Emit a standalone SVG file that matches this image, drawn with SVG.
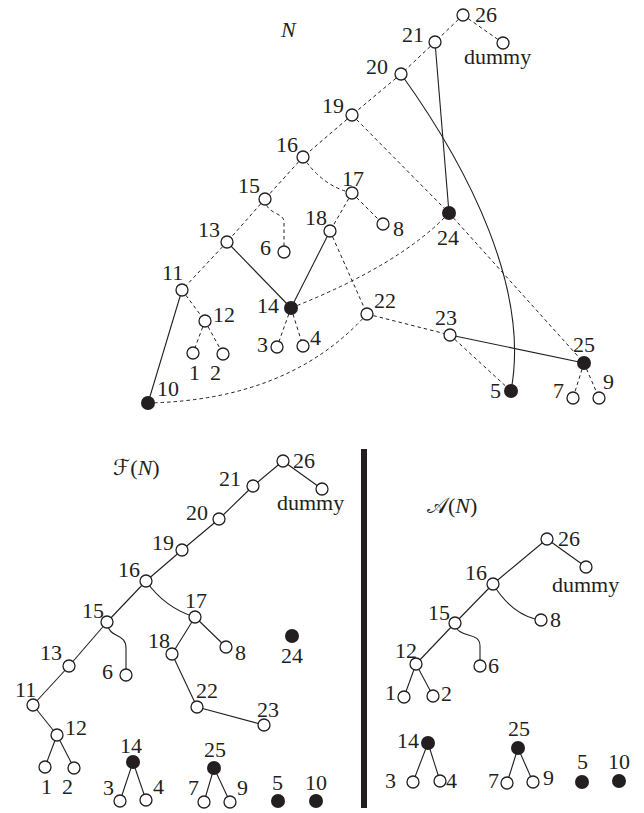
<svg xmlns="http://www.w3.org/2000/svg" width="644" height="813" viewBox="0 0 644 813">
<defs>
<style>
.o{fill:#fff;stroke:#231f20;stroke-width:1.3}
.f{fill:#231f20;stroke:none}
.d{fill:none;stroke:#231f20;stroke-width:1;stroke-dasharray:3.5 3}
.s{fill:none;stroke:#231f20;stroke-width:1.1}
text{font-family:"Liberation Serif","DejaVu Serif",serif;font-size:22px;fill:#231f20}
.it{font-style:italic}
.sc{font-family:"Liberation Serif","DejaVu Sans","DejaVu Serif","Noto Sans",serif}
</style>
</defs>
<rect width="644" height="813" fill="#fff"/>

<!-- ===== Network N ===== -->
<g id="connectors-N">
<line class="d" x1="463" y1="15" x2="435" y2="42"/>
<line class="d" x1="463" y1="15" x2="503" y2="43"/>
<line class="d" x1="435" y1="42" x2="401" y2="74"/>
<line class="s" x1="435" y1="42" x2="449" y2="213"/>
<path class="s" d="M401,74 C470,170 530,290 511,391"/>
<line class="d" x1="401" y1="74" x2="352" y2="115"/>
<line class="d" x1="352" y1="115" x2="303" y2="157"/>
<line class="d" x1="352" y1="115" x2="449" y2="213"/>
<line class="d" x1="303" y1="157" x2="265" y2="199"/>
<path class="d" d="M303,157 Q322,186 352,193"/>
<line class="d" x1="352" y1="193" x2="330" y2="231"/>
<line class="d" x1="352" y1="193" x2="383" y2="224"/>
<line class="d" x1="265" y1="199" x2="227" y2="242"/>
<path class="d" d="M265,199 C266,215 284,212 284,222 L284,246"/>
<line class="d" x1="227" y1="242" x2="182" y2="290"/>
<line class="s" x1="227" y1="242" x2="291" y2="308"/>
<line class="s" x1="182" y1="290" x2="148" y2="403"/>
<line class="d" x1="182" y1="290" x2="205" y2="321"/>
<line class="d" x1="205" y1="321" x2="193" y2="353"/>
<line class="d" x1="205" y1="321" x2="223" y2="354"/>
<line class="d" x1="291" y1="308" x2="277" y2="347"/>
<line class="d" x1="291" y1="308" x2="303" y2="346"/>
<line class="s" x1="330" y1="231" x2="291" y2="308"/>
<line class="d" x1="330" y1="231" x2="367" y2="314"/>
<path class="d" d="M291,308 Q400,265 449,213"/>
<line class="d" x1="449" y1="213" x2="584" y2="363"/>
<line class="d" x1="367" y1="314" x2="450" y2="335"/>
<path class="d" d="M367,314 Q290,400 148,403"/>
<line class="s" x1="450" y1="335" x2="584" y2="363"/>
<line class="d" x1="450" y1="335" x2="511" y2="391"/>
<line class="d" x1="584" y1="363" x2="573" y2="398"/>
<line class="d" x1="584" y1="363" x2="599" y2="398"/>
</g>
<text class="it" x="281" y="37">N</text>
<g id="N-26"><circle class="o" cx="463" cy="15" r="6"/><text x="475" y="22">26</text></g>
<g id="N-dummy"><circle class="o" cx="503" cy="43" r="6"/><text x="464" y="64">dummy</text></g>
<g id="N-21"><circle class="o" cx="435" cy="42" r="6"/><text x="402" y="42">21</text></g>
<g id="N-20"><circle class="o" cx="401" cy="74" r="6"/><text x="366" y="74">20</text></g>
<g id="N-19"><circle class="o" cx="352" cy="115" r="6"/><text x="322" y="113">19</text></g>
<g id="N-16"><circle class="o" cx="303" cy="157" r="6"/><text x="276" y="152">16</text></g>
<g id="N-17"><circle class="o" cx="352" cy="193" r="6"/><text x="342" y="186">17</text></g>
<g id="N-18"><circle class="o" cx="330" cy="231" r="6"/><text x="305" y="225">18</text></g>
<g id="N-8"><circle class="o" cx="383" cy="224" r="6"/><text x="393" y="236">8</text></g>
<g id="N-15"><circle class="o" cx="265" cy="199" r="6"/><text x="238" y="193">15</text></g>
<g id="N-6"><circle class="o" cx="284" cy="252" r="6"/><text x="260" y="255">6</text></g>
<g id="N-13"><circle class="o" cx="227" cy="242" r="6"/><text x="198" y="237">13</text></g>
<g id="N-11"><circle class="o" cx="182" cy="290" r="6"/><text x="162" y="280">11</text></g>
<g id="N-12"><circle class="o" cx="205" cy="321" r="6"/><text x="213" y="322">12</text></g>
<g id="N-1"><circle class="o" cx="193" cy="353" r="6"/><text x="189" y="380">1</text></g>
<g id="N-2"><circle class="o" cx="223" cy="354" r="6"/><text x="210" y="380">2</text></g>
<g id="N-14"><circle class="f" cx="291" cy="308" r="7"/><text x="257" y="313">14</text></g>
<g id="N-3"><circle class="o" cx="277" cy="347" r="6"/><text x="257" y="352">3</text></g>
<g id="N-4"><circle class="o" cx="303" cy="346" r="6"/><text x="310" y="345">4</text></g>
<g id="N-10"><circle class="f" cx="148" cy="403" r="7"/><text x="157" y="396">10</text></g>
<g id="N-22"><circle class="o" cx="367" cy="314" r="6"/><text x="374" y="308">22</text></g>
<g id="N-23"><circle class="o" cx="450" cy="335" r="6"/><text x="435" y="325">23</text></g>
<g id="N-24"><circle class="f" cx="449" cy="213" r="7"/><text x="437" y="245">24</text></g>
<g id="N-25"><circle class="f" cx="584" cy="363" r="7"/><text x="573" y="352">25</text></g>
<g id="N-5"><circle class="f" cx="511" cy="391" r="7"/><text x="490" y="398">5</text></g>
<g id="N-7"><circle class="o" cx="573" cy="398" r="6"/><text x="553" y="398">7</text></g>
<g id="N-9"><circle class="o" cx="599" cy="398" r="6"/><text x="603" y="389">9</text></g>

<!-- divider -->
<rect x="361" y="449" width="6" height="359" fill="#231f20"/>

<!-- ===== F(N) ===== -->
<g id="connectors-F">
<line class="s" x1="283" y1="461" x2="322" y2="489"/>
<line class="s" x1="283" y1="461" x2="253" y2="486"/>
<line class="s" x1="253" y1="486" x2="219" y2="519"/>
<line class="s" x1="219" y1="519" x2="182" y2="550"/>
<line class="s" x1="182" y1="550" x2="146" y2="581"/>
<line class="s" x1="146" y1="581" x2="107" y2="622"/>
<path class="s" d="M146,581 Q165,608 195,617"/>
<line class="s" x1="107" y1="622" x2="69" y2="666"/>
<path class="s" d="M107,622 C109,640 126,632 126,648 L126,669"/>
<line class="s" x1="69" y1="666" x2="33" y2="705"/>
<line class="s" x1="33" y1="705" x2="57" y2="735"/>
<line class="s" x1="57" y1="735" x2="45" y2="767"/>
<line class="s" x1="57" y1="735" x2="74" y2="768"/>
<line class="s" x1="195" y1="617" x2="172" y2="654"/>
<line class="s" x1="195" y1="617" x2="226" y2="647"/>
<line class="s" x1="172" y1="654" x2="197" y2="707"/>
<line class="s" x1="197" y1="707" x2="264" y2="725"/>
<line class="s" x1="133" y1="762" x2="120" y2="801"/>
<line class="s" x1="133" y1="762" x2="146" y2="800"/>
<line class="s" x1="214" y1="768" x2="204" y2="802"/>
<line class="s" x1="214" y1="768" x2="230" y2="802"/>
</g>
<text class="sc" x="113" y="475">ℱ(<tspan class="it" font-family="Liberation Serif">N</tspan>)</text>
<g id="F-26"><circle class="o" cx="283" cy="461" r="6"/><text x="293" y="468">26</text></g>
<g id="F-dummy"><circle class="o" cx="322" cy="489" r="6"/><text x="277" y="510">dummy</text></g>
<g id="F-21"><circle class="o" cx="253" cy="486" r="6"/><text x="219" y="486">21</text></g>
<g id="F-20"><circle class="o" cx="219" cy="519" r="6"/><text x="186" y="520">20</text></g>
<g id="F-19"><circle class="o" cx="182" cy="550" r="6"/><text x="152" y="550">19</text></g>
<g id="F-16"><circle class="o" cx="146" cy="581" r="6"/><text x="118" y="577">16</text></g>
<g id="F-15"><circle class="o" cx="107" cy="622" r="6"/><text x="82" y="618">15</text></g>
<g id="F-17"><circle class="o" cx="195" cy="617" r="6"/><text x="185" y="608">17</text></g>
<g id="F-13"><circle class="o" cx="69" cy="666" r="6"/><text x="40" y="660">13</text></g>
<g id="F-6"><circle class="o" cx="126" cy="675" r="6"/><text x="102" y="679">6</text></g>
<g id="F-11"><circle class="o" cx="33" cy="705" r="6"/><text x="15" y="697">11</text></g>
<g id="F-12"><circle class="o" cx="57" cy="735" r="6"/><text x="65" y="735">12</text></g>
<g id="F-1"><circle class="o" cx="45" cy="767" r="6"/><text x="41" y="794">1</text></g>
<g id="F-2"><circle class="o" cx="74" cy="768" r="6"/><text x="62" y="794">2</text></g>
<g id="F-18"><circle class="o" cx="172" cy="654" r="6"/><text x="148" y="648">18</text></g>
<g id="F-8"><circle class="o" cx="226" cy="647" r="6"/><text x="235" y="660">8</text></g>
<g id="F-24"><circle class="f" cx="292" cy="636" r="7"/><text x="281" y="663">24</text></g>
<g id="F-22"><circle class="o" cx="197" cy="707" r="6"/><text x="196" y="698">22</text></g>
<g id="F-23"><circle class="o" cx="264" cy="725" r="6"/><text x="257" y="717">23</text></g>
<g id="F-14"><circle class="f" cx="133" cy="762" r="7"/><text x="120" y="753">14</text></g>
<g id="F-3"><circle class="o" cx="120" cy="801" r="6"/><text x="103" y="795">3</text></g>
<g id="F-4"><circle class="o" cx="146" cy="800" r="6"/><text x="153" y="794">4</text></g>
<g id="F-25"><circle class="f" cx="214" cy="768" r="7"/><text x="204" y="757">25</text></g>
<g id="F-7"><circle class="o" cx="204" cy="802" r="6"/><text x="188" y="795">7</text></g>
<g id="F-9"><circle class="o" cx="230" cy="802" r="6"/><text x="237" y="795">9</text></g>
<g id="F-5"><circle class="f" cx="278" cy="801" r="7"/><text x="272" y="790">5</text></g>
<g id="F-10"><circle class="f" cx="316" cy="801" r="7"/><text x="305" y="790">10</text></g>

<!-- ===== A(N) ===== -->
<g id="connectors-A">
<line class="s" x1="547" y1="539" x2="586" y2="567"/>
<line class="s" x1="547" y1="539" x2="493" y2="584"/>
<line class="s" x1="493" y1="584" x2="455" y2="623"/>
<path class="s" d="M493,584 Q510,612 535,619"/>
<line class="s" x1="455" y1="623" x2="416" y2="664"/>
<path class="s" d="M455,623 C457,640 480,630 480,646 L480,660"/>
<line class="s" x1="416" y1="664" x2="404" y2="697"/>
<line class="s" x1="416" y1="664" x2="433" y2="696"/>
<line class="s" x1="428" y1="743" x2="413" y2="782"/>
<line class="s" x1="428" y1="743" x2="440" y2="781"/>
<line class="s" x1="518" y1="748" x2="507" y2="783"/>
<line class="s" x1="518" y1="748" x2="533" y2="782"/>
</g>
<text class="sc" x="427" y="513">𝒜(<tspan class="it" font-family="Liberation Serif">N</tspan>)</text>
<g id="A-26"><circle class="o" cx="547" cy="539" r="6"/><text x="558" y="546">26</text></g>
<g id="A-dummy"><circle class="o" cx="586" cy="567" r="6"/><text x="552" y="592">dummy</text></g>
<g id="A-16"><circle class="o" cx="493" cy="584" r="6"/><text x="465" y="580">16</text></g>
<g id="A-15"><circle class="o" cx="455" cy="623" r="6"/><text x="428" y="620">15</text></g>
<g id="A-8"><circle class="o" cx="541" cy="620" r="6"/><text x="550" y="627">8</text></g>
<g id="A-12"><circle class="o" cx="416" cy="664" r="6"/><text x="395" y="658">12</text></g>
<g id="A-6"><circle class="o" cx="480" cy="666" r="6"/><text x="488" y="673">6</text></g>
<g id="A-1"><circle class="o" cx="404" cy="697" r="6"/><text x="385" y="700">1</text></g>
<g id="A-2"><circle class="o" cx="433" cy="696" r="6"/><text x="441" y="701">2</text></g>
<g id="A-14"><circle class="f" cx="428" cy="743" r="7"/><text x="397" y="748">14</text></g>
<g id="A-3"><circle class="o" cx="413" cy="782" r="6"/><text x="385" y="788">3</text></g>
<g id="A-4"><circle class="o" cx="440" cy="781" r="6"/><text x="446" y="788">4</text></g>
<g id="A-25"><circle class="f" cx="518" cy="748" r="7"/><text x="508" y="736">25</text></g>
<g id="A-7"><circle class="o" cx="507" cy="783" r="6"/><text x="488" y="788">7</text></g>
<g id="A-9"><circle class="o" cx="533" cy="782" r="6"/><text x="543" y="785">9</text></g>
<g id="A-5"><circle class="f" cx="582" cy="782" r="7"/><text x="577" y="769">5</text></g>
<g id="A-10"><circle class="f" cx="619" cy="781" r="7"/><text x="608" y="769">10</text></g>
</svg>
